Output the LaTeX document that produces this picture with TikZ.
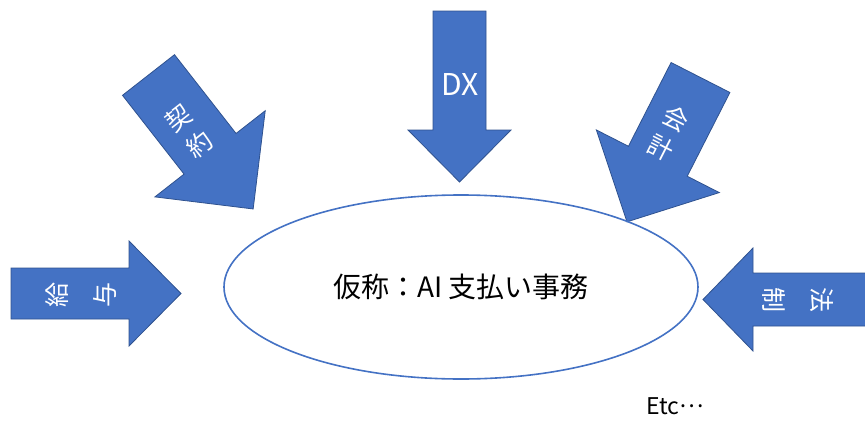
\documentclass[tikz,border=0pt]{standalone}
\usepackage{fontspec}
\usetikzlibrary{shapes.geometric}
\newfontfamily\jp{Noto Sans CJK JP}
\definecolor{arrowfill}{HTML}{4472C4}
\definecolor{arrowline}{HTML}{2F528F}
\definecolor{ellline}{HTML}{4472C4}
\tikzset{
  blockarrow/.style={fill=arrowfill, draw=arrowline, line width=0.8pt, line join=miter},
  arrowtext/.style={text=white, align=center, inner sep=0pt, font=\jp\fontsize{25}{#1}\selectfont},
  arrowtext/.default=33,
  mainoval/.style={ellipse, draw=ellline, line width=1.6pt, minimum width=474pt, minimum height=184pt, inner sep=0pt, font=\jp\fontsize{28}{32}\selectfont}
}
% #1,#2 back centre; #3 direction; #4 length; #5 shaft width; #6 head width; #7 head length
\newcommand\drawblockarrow[7]{%
  \begin{scope}[shift={(#1,#2)},rotate=#3]
    \path[blockarrow] (0,#5/2) -- (#4-#7,#5/2) -- (#4-#7,#6/2) -- (#4,0)
      -- (#4-#7,-#6/2) -- (#4-#7,-#5/2) -- (0,-#5/2) -- cycle;
  \end{scope}}
\begin{document}
\begin{tikzpicture}[x=1pt,y=1pt]
  \useasboundingbox (0,0) rectangle (865,-423);
  \clip (0,0) rectangle (865,-423);
  % arrows
  \drawblockarrow{148.5}{-75}{-52}{170}{66}{140}{70}
  \drawblockarrow{459.5}{-11}{-90}{171}{53}{103}{52}
  \drawblockarrow{700.5}{-77.5}{-117}{162}{66}{138}{68}
  \drawblockarrow{11}{-293.5}{0}{170}{51}{105}{52}
  \drawblockarrow{880}{-299.5}{180}{177}{53}{103}{50}
  % arrow labels
  \node[arrowtext, rotate=38] (keiyaku) at (189,-131) {契\\約};
  \node[arrowtext, font=\jp\fontsize{30}{34}\selectfont] (dx) at (460,-85) {DX};
  \node[arrowtext, rotate=-27] (kaikei) at (668,-133) {会\\計};
  \node[arrowtext=48, rotate=90] (kyuyo) at (81,-295) {給\\与};
  \node[arrowtext=48, rotate=-90] (hosei) at (798,-300) {法\\制};
  % centre
  \node[mainoval] (main) at (461,-287) {仮称：AI 支払い事務};
  \node[font=\jp\fontsize{23}{26}\selectfont, inner sep=0pt] (etc) at (675,-406) {Etc\raisebox{0.3em}{…}};
\end{tikzpicture}
\end{document}
